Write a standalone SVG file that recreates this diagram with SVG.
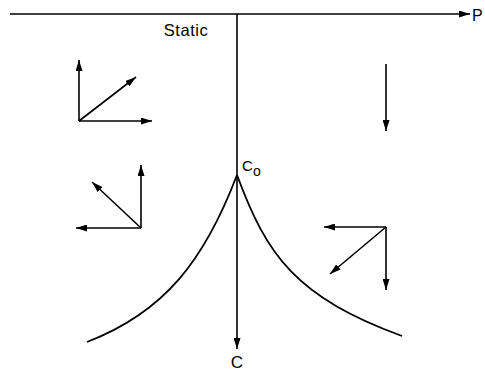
<svg xmlns="http://www.w3.org/2000/svg" width="485" height="372" viewBox="0 0 485 372">
<style>
.ln{stroke:#000;stroke-width:1.6;fill:none}
.ar{marker-end:url(#ah)}
.cv{stroke:#000;stroke-width:1.8;fill:none}
text{font-family:"Liberation Sans",Arial,sans-serif;fill:#000}
</style>
<defs>
<marker id="ah" viewBox="0 0 11 7" refX="11" refY="3.5" markerWidth="11" markerHeight="7" markerUnits="userSpaceOnUse" orient="auto">
<path d="M0,0 L11,3.5 L0,7 z" fill="#000"/>
</marker>
</defs>
<rect width="485" height="372" fill="#fff"/>
<g id="connectors">
<line class="ln ar" x1="10" y1="14" x2="470" y2="14"/>
<line class="ln ar" x1="237" y1="14" x2="237" y2="349"/>
<path class="cv" d="M237,175 C204.5,260 165,312 87,342"/>
<path class="cv" d="M237,175 C267,256 295.6,296.8 402,336"/>
</g>
<g id="axis-labels">
<text x="186" y="36" font-size="16.5" text-anchor="middle" letter-spacing="0.5">Static</text>
<text x="472" y="21" font-size="16">P</text>
<text x="237" y="368" font-size="17" text-anchor="middle">C</text>
<text x="242" y="171" font-size="15">C</text>
<text x="253" y="176" font-size="14">o</text>
</g>
<g id="vectors-top-left">
<line class="ln ar" x1="79" y1="121" x2="79" y2="60"/>
<line class="ln ar" x1="79" y1="121" x2="152" y2="121"/>
<line class="ln ar" x1="79" y1="121" x2="136" y2="77"/>
</g>
<g id="vectors-mid-left">
<line class="ln ar" x1="141" y1="228" x2="141" y2="165"/>
<line class="ln ar" x1="141" y1="228" x2="76" y2="228"/>
<line class="ln ar" x1="141" y1="228" x2="92" y2="182"/>
</g>
<g id="vector-top-right">
<line class="ln ar" x1="386" y1="64" x2="386" y2="131"/>
</g>
<g id="vectors-bottom-right">
<line class="ln ar" x1="386" y1="227" x2="324" y2="227"/>
<line class="ln ar" x1="386" y1="227" x2="386" y2="290"/>
<line class="ln ar" x1="386" y1="227" x2="330" y2="274"/>
</g>
</svg>
